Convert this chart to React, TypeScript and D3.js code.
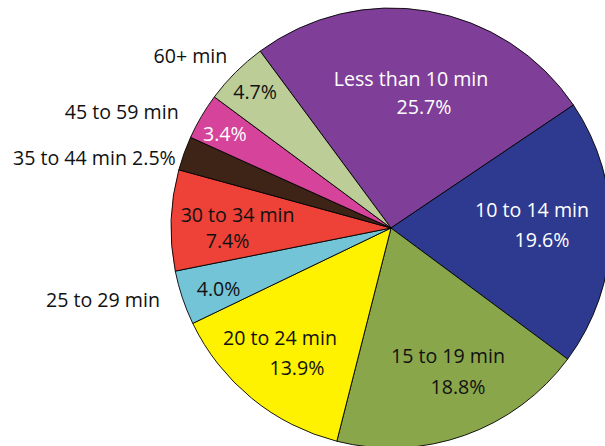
import React from "react";
import * as d3 from "d3";

const categories = [
  "Less than 10 min",
  "10 to 14 min",
  "15 to 19 min",
  "20 to 24 min",
  "25 to 29 min",
  "30 to 34 min",
  "35 to 44 min",
  "45 to 59 min",
  "60+ min",
];
const values = [25.7, 19.6, 18.8, 13.9, 4.0, 7.4, 2.5, 3.4, 4.7];
const colors = [
  "#7f3f98",
  "#2e3a90",
  "#8aa64b",
  "#fff200",
  "#72c4d6",
  "#ee4137",
  "#3d2417",
  "#d5439a",
  "#bccd98",
];
const textColors = ["#ffffff", "#ffffff", "#111", "#111", "#111", "#111", "#111", "#ffffff", "#111"];

// layout: mode ("in2" two-line inside, "in1" percent inside + category outside, "out" all outside),
// radius fraction, angle offset (deg), line-2 horizontal shift, line spacing
const labelLayout = [
  { mode: "in2", r: 0.628, da: 1.3, shift: 6.5, gap: 28 },
  { mode: "in2", r: 0.664, da: -2.5, shift: 5, gap: 30 },
  { mode: "in2", r: 0.71, da: -3.8, shift: 5, gap: 31 },
  { mode: "in2", r: 0.735, da: 0.1, shift: 8.5, gap: 30 },
  { mode: "in1", r: 0.83, da: -0.7, outR: 1.1, outDa: 1.2 },
  { mode: "in2", r: 0.72, da: -2, shift: -5, gap: 26 },
  { mode: "out", outR: 1.03, outDa: -1.6 },
  { mode: "in1", r: 0.87, da: -0.7, outR: 1.1, outDa: -1.8 },
  { mode: "in1", r: 0.877, da: 0.2, outR: 1.08, outDa: 1.4 },
];

const W = 605;
const H = 446;
const CX = 391;
const CY = 228;
const R = 220;
const START_DEG = -36.5;
const FONT = "'Open Sans', 'Noto Sans', sans-serif";
const FS = 19.6;

export default function App() {
  const toRad = (d: number) => (d * Math.PI) / 180;
  const pie = d3
    .pie<number>()
    .sort(null)
    .value((d) => d)
    .startAngle(toRad(START_DEG))
    .endAngle(toRad(START_DEG + 360));
  const arcs = pie(values);
  const arcGen = d3.arc<d3.PieArcDatum<number>>().innerRadius(0).outerRadius(R);

  const polar = (angle: number, r: number) => [Math.sin(angle) * r, -Math.cos(angle) * r];

  return (
    <svg
      width={W}
      height={H}
      style={{ position: "absolute", left: 0, top: 0, background: "#fff" }}
      fontFamily={FONT}
      fontSize={FS}
    >
      <g transform={`translate(${CX},${CY})`}>
        {arcs.map((a, i) => (
          <path key={i} d={arcGen(a) || ""} fill={colors[i]} stroke="#000" strokeWidth={0.9} strokeLinejoin="round" />
        ))}
        {arcs.map((a, i) => {
          const L: any = labelLayout[i];
          const mid = (a.startAngle + a.endAngle) / 2;
          const pct = values[i].toFixed(1) + "%";
          const out: React.ReactNode[] = [];
          if (L.mode === "in2") {
            const [x, y] = polar(mid + toRad(L.da), L.r * R);
            out.push(
              <text key="c" x={x - L.shift} y={y - L.gap / 2} textAnchor="middle" dominantBaseline="central" fill={textColors[i]}>
                {categories[i]}
              </text>,
              <text key="p" x={x + L.shift} y={y + L.gap / 2} textAnchor="middle" dominantBaseline="central" fill={textColors[i]}>
                {pct}
              </text>
            );
          } else if (L.mode === "in1") {
            const [x, y] = polar(mid + toRad(L.da), L.r * R);
            const [ox, oy] = polar(mid + toRad(L.outDa), L.outR * R);
            out.push(
              <text key="p" x={x} y={y} textAnchor="middle" dominantBaseline="central" fill={textColors[i]}>
                {pct}
              </text>,
              <text key="c" x={ox} y={oy} textAnchor="end" dominantBaseline="central" fill="#111">
                {categories[i]}
              </text>
            );
          } else {
            const [ox, oy] = polar(mid + toRad(L.outDa), L.outR * R);
            out.push(
              <text key="c" x={ox} y={oy} textAnchor="end" dominantBaseline="central" fill="#111">
                {categories[i] + " " + pct}
              </text>
            );
          }
          return <g key={i}>{out}</g>;
        })}
      </g>
    </svg>
  );
}
